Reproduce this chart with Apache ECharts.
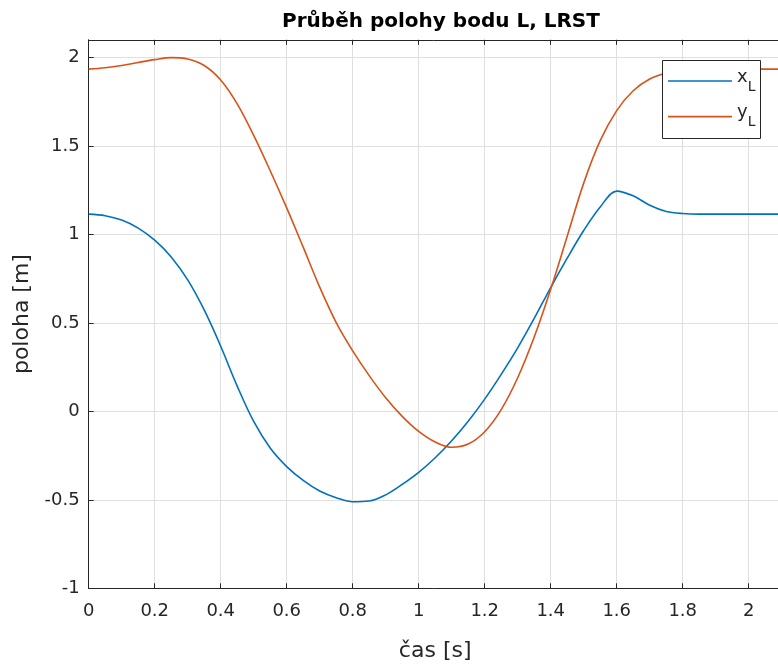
<!DOCTYPE html>
<html>
<head>
<meta charset="utf-8">
<script src="https://cdn.jsdelivr.net/npm/echarts@6/dist/echarts.min.js"></script>
<style>html,body{margin:0;padding:0;background:#fff;}#c{width:778px;height:664px;}</style>
</head>
<body>
<div id="c"></div>
<script>
const titleText = 'Průběh polohy bodu L, LRST';
const xName = 'čas [s]';
const yName = 'poloha [m]';
const t = [0, 0.05, 0.1, 0.15, 0.2, 0.25, 0.3, 0.35, 0.4, 0.45, 0.5, 0.55, 0.6, 0.65, 0.7, 0.75, 0.8, 0.85, 0.9, 0.95, 1.0,
  1.05, 1.1, 1.15, 1.2, 1.25, 1.3, 1.35, 1.4, 1.45, 1.5, 1.55, 1.6, 1.65, 1.7, 1.75, 1.8, 1.85, 1.9, 1.95, 2.0, 2.05, 2.1];
const xL = [1.115, 1.106, 1.081, 1.036, 0.968, 0.873, 0.743, 0.573, 0.368, 0.143, -0.057, -0.207, -0.312, -0.39, -0.45, -0.488, -0.511, -0.507, -0.472, -0.413, -0.345,
  -0.262, -0.166, -0.056, 0.069, 0.209, 0.359, 0.525, 0.70, 0.866, 1.022, 1.155, 1.245, 1.218, 1.165, 1.13, 1.118, 1.115, 1.115, 1.115, 1.115, 1.115, 1.115];
const yL = [1.934, 1.942, 1.955, 1.972, 1.988, 1.999, 1.992, 1.955, 1.873, 1.738, 1.56, 1.36, 1.15, 0.928, 0.702, 0.502, 0.342, 0.202, 0.077, -0.028, -0.113,
  -0.173, -0.203, -0.185, -0.115, 0.01, 0.19, 0.42, 0.69, 0.99, 1.29, 1.53, 1.70, 1.812, 1.878, 1.912, 1.929, 1.934, 1.934, 1.934, 1.934, 1.934, 1.934];
const xTicks = [0, 0.2, 0.4, 0.6, 0.8, 1, 1.2, 1.4, 1.6, 1.8, 2];
const yTicks = [-1, -0.5, 0, 0.5, 1, 1.5, 2];

const FONT = 'DejaVu Sans';
const AX = '#262626';
const chart = echarts.init(document.getElementById('c'));
const pairs = (a) => t.map((v, i) => [v, a[i]]);
const inTicks = (list) => (v) => list.some(k => Math.abs(k - v) < 1e-9) ? String(v) : '';

chart.setOption({
  animation: false,
  backgroundColor: '#fff',
  title: {
    text: titleText, left: 436, top: 7, textAlign: 'center',
    textStyle: { fontFamily: FONT, fontSize: 20, fontWeight: 'bold', color: '#000' }
  },
  grid: { left: 88.7, right: -3.7, top: 39.8, bottom: 75.7, containLabel: false, outerBoundsMode: 'none' },
  graphic: [{
    type: 'rect', z: 10,
    shape: { x: 662.5, y: 60.5, width: 98, height: 78 },
    style: { fill: '#fff', stroke: AX, lineWidth: 1 }
  }],
  legend: {
    orient: 'vertical', left: 662, top: 60, z: 20,
    padding: [8, 6, 8, 6], itemGap: 9.6, itemWidth: 64, itemHeight: 1.6, itemTextGap: 4,
    icon: 'rect',
    data: ['x_L', 'y_L'],
    formatter: (n) => n === 'x_L' ? '{m|x}{s|L}' : '{m|y}{s|L}',
    textStyle: {
      fontFamily: FONT, color: AX,
      rich: {
        m: { fontFamily: FONT, fontSize: 18, lineHeight: 26, verticalAlign: 'top', color: AX },
        s: { fontFamily: FONT, fontSize: 14, lineHeight: 9, verticalAlign: 'bottom', color: AX }
      }
    }
  },
  xAxis: [{
    type: 'value', min: 0, max: 2.1, interval: 0.2, position: 'bottom',
    name: xName, nameLocation: 'middle', nameGap: 52,
    nameTextStyle: { fontFamily: FONT, fontSize: 22, color: AX },
    axisLine: { show: true, onZero: false, lineStyle: { color: AX, width: 1 } },
    axisTick: { show: true, inside: true, length: 5, lineStyle: { color: AX } },
    axisLabel: { fontFamily: FONT, fontSize: 18, color: AX, margin: 14, formatter: inTicks(xTicks) },
    splitLine: { show: true, lineStyle: { color: '#dfdfdf', width: 1 } }
  }, {
    type: 'value', min: 0, max: 2.1, interval: 0.2, position: 'top',
    axisLine: { show: true, onZero: false, lineStyle: { color: AX, width: 1 } },
    axisTick: { show: true, inside: true, length: 5, lineStyle: { color: AX } },
    axisLabel: { show: false },
    splitLine: { show: false }
  }],
  yAxis: [{
    type: 'value', min: -1, max: 2.1, interval: 0.5,
    name: yName, nameLocation: 'middle', nameGap: 43, nameRotate: 90,
    nameTextStyle: { fontFamily: FONT, fontSize: 22, color: AX },
    axisLine: { show: true, onZero: false, lineStyle: { color: AX, width: 1 } },
    axisTick: { show: true, inside: true, length: 5, lineStyle: { color: AX } },
    axisLabel: { fontFamily: FONT, fontSize: 18, color: AX, margin: 9, formatter: inTicks(yTicks) },
    splitLine: { show: true, lineStyle: { color: '#dfdfdf', width: 1 } }
  }],
  series: [
    { name: 'x_L', type: 'line', xAxisIndex: 0, data: pairs(xL), showSymbol: false, symbol: 'none', smooth: 0.35,
      lineStyle: { color: '#0072BD', width: 1.6 }, itemStyle: { color: '#0072BD' } },
    { name: 'y_L', type: 'line', xAxisIndex: 0, data: pairs(yL), showSymbol: false, symbol: 'none', smooth: 0.35,
      lineStyle: { color: '#D95319', width: 1.6 }, itemStyle: { color: '#D95319' } }
  ]
});
</script>
</body>
</html>
